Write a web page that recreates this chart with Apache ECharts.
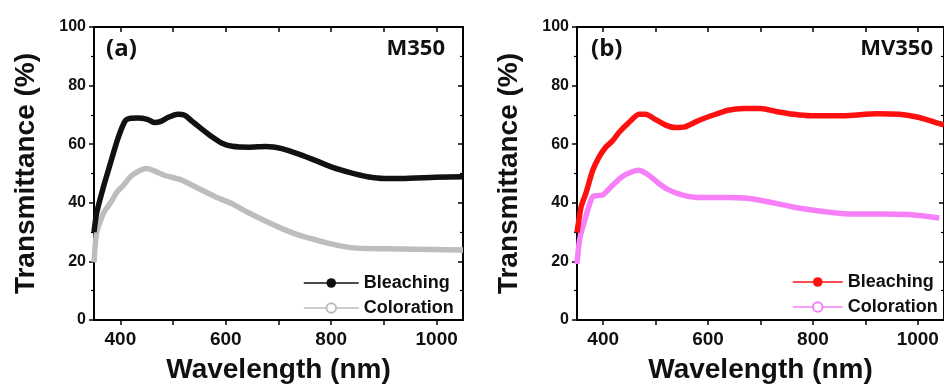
<!DOCTYPE html>
<html>
<head>
<meta charset="utf-8">
<script src="https://cdn.jsdelivr.net/npm/echarts@6/dist/echarts.min.js"></script>
<style>
html,body{margin:0;padding:0;background:#fff;}
#c{width:944px;height:389px;}
</style>
</head>
<body>
<div id="c"></div>
<script>
// Panel (a) M350
const aBleachNm  = [350,355,368,381,394,406,413,432,451,464,477,490,509,522,535,554,573,593,612,644,676,708,740,772,804,836,869,901,933,997,1050];
const aBleachT   = [30.0,36.5,45.5,53.4,61.2,66.9,68.5,68.9,68.5,67.4,67.8,69.1,70.2,69.9,68.0,65.2,62.6,60.3,59.3,59.0,59.2,58.4,56.5,54.3,52.0,50.3,48.9,48.3,48.3,48.7,48.9];
const aColorNm   = [350,355,368,381,394,406,419,438,451,464,483,516,548,580,612,644,676,708,740,772,804,836,869,933,1050];
const aColorT    = [19.7,29.8,36.5,39.9,43.8,46.0,48.9,51.1,51.7,50.9,49.4,47.8,44.9,42.1,39.7,36.5,33.7,31.1,28.9,27.3,25.8,24.7,24.4,24.2,23.9];
// Panel (b) MV350
const bBleachNm  = [350,358,367,380,392,405,418,430,449,468,481,499,518,537,556,581,606,638,669,701,732,764,795,858,921,965,1003,1034,1050];
const bBleachT   = [29.8,38.8,43.3,51.1,55.6,59.0,61.2,64.0,67.4,70.2,70.2,68.5,66.6,65.7,65.9,68.0,69.7,71.6,72.2,72.2,71.1,70.2,69.7,69.7,70.4,70.2,69.1,67.4,66.6];
const bColorNm   = [350,355,367,380,399,418,436,455,468,487,506,525,550,575,606,638,669,701,732,764,795,826,858,921,984,1041];
const bColorT    = [19.1,27.5,35.4,42.1,42.7,46.0,48.9,50.6,51.1,49.4,46.6,44.4,42.7,41.9,41.8,41.8,41.6,40.8,39.7,38.5,37.6,36.9,36.3,36.2,36.0,34.8];

const xTickLabels = [400,600,800,1000];
const xTicks = [400,500,600,700,800,900,1000];
const seriesNames = ['Bleaching','Coloration'];
const panelTags = ['(a)','(b)'];
const sampleNames = ['M350','MV350'];

function pairs(xs, ys){ return xs.map((x,i)=>[x, ys[i]]); }

const FONT = '"Liberation Sans", Arial, sans-serif';
const TXT = '#111';

function bottomX(grid){
  return {
    type:'value', gridIndex:grid, min:350, max:1050, position:'bottom',
    name:'Wavelength (nm)', nameLocation:'middle', nameGap:36,
    nameTextStyle:{fontFamily:FONT, fontWeight:'bold', fontSize:28, color:TXT},
    axisLine:{show:true, lineStyle:{color:'#000', width:2}},
    axisTick:{show:true, inside:false, length:5, customValues:xTicks, lineStyle:{color:'#000', width:1.5}},
    axisLabel:{show:true, margin:10, customValues:xTickLabels, formatter:function(v){return String(v);},
      fontFamily:FONT, fontWeight:'bold', fontSize:19, color:TXT},
    splitLine:{show:false}
  };
}
function topX(grid){
  return {
    type:'value', gridIndex:grid, min:350, max:1050, position:'top',
    axisLine:{show:true, onZero:false, lineStyle:{color:'#000', width:2}},
    axisTick:{show:true, inside:true, length:5, customValues:xTicks, lineStyle:{color:'#000', width:1.5}},
    axisLabel:{show:false}, splitLine:{show:false}
  };
}
function leftY(grid){
  return {
    type:'value', gridIndex:grid, min:0, max:100, interval:20, position:'left',
    name:'Transmittance (%)', nameLocation:'middle', nameGap:54,
    nameTextStyle:{fontFamily:FONT, fontWeight:'bold', fontSize:28, color:TXT},
    axisLine:{show:true, lineStyle:{color:'#000', width:2}},
    axisTick:{show:true, inside:false, length:5, lineStyle:{color:'#000', width:1.5}},
    minorTick:{show:true, splitNumber:2, length:3, lineStyle:{color:'#000', width:1.2}},
    axisLabel:{show:true, margin:8, fontFamily:FONT, fontWeight:'bold', fontSize:16, color:TXT},
    splitLine:{show:false}, minorSplitLine:{show:false}
  };
}
function rightY(grid){
  return {
    type:'value', gridIndex:grid, min:0, max:100, interval:20, position:'right',
    axisLine:{show:true, onZero:false, lineStyle:{color:'#000', width:2}},
    axisTick:{show:true, inside:true, length:5, lineStyle:{color:'#000', width:1.5}},
    minorTick:{show:true, splitNumber:2, length:3, lineStyle:{color:'#000', width:1.2}},
    axisLabel:{show:false}, splitLine:{show:false}, minorSplitLine:{show:false}
  };
}

function lineSeries(name, data, xi, yi, color, sym){
  return {
    type:'line', name:name, xAxisIndex:xi, yAxisIndex:yi, data:data,
    smooth:0.2, showSymbol:false, symbol:sym, symbolSize:11,
    lineStyle:{color:color, width:5.5},
    itemStyle:{color: color, borderColor: color, borderWidth: sym==='emptyCircle'?1.5:0},
    emphasis:{disabled:true}, animation:false, z:3
  };
}

const chart = echarts.init(document.getElementById('c'), null, {renderer:'canvas'});
const legendText = {fontFamily:FONT, fontWeight:'bold', fontSize:18, color:TXT, lineHeight:20};
chart.setOption({
  backgroundColor:'#fff',
  animation:false,
  grid:[
    {left:94, top:27, width:369, height:295},
    {left:577, top:27, width:371, height:295}
  ],
  xAxis:[bottomX(0), topX(0), bottomX(1), topX(1)],
  yAxis:[leftY(0), rightY(0), leftY(1), rightY(1)],
  title:[
    {text:panelTags[0], left:106, top:37, padding:0, textStyle:{fontFamily:'"Open Sans", sans-serif', fontWeight:'bold', fontSize:24, color:TXT}},
    {text:sampleNames[0], right:499, top:38, padding:0, textStyle:{fontFamily:'"Open Sans", sans-serif', fontWeight:'bold', fontSize:22, color:TXT}},
    {text:panelTags[1], left:591, top:37, padding:0, textStyle:{fontFamily:'"Open Sans", sans-serif', fontWeight:'bold', fontSize:24, color:TXT}},
    {text:sampleNames[1], right:11, top:38, padding:0, textStyle:{fontFamily:'"Open Sans", sans-serif', fontWeight:'bold', fontSize:22, color:TXT}}
  ],
  legend:[
    {data:[seriesNames[0], seriesNames[1]], orient:'vertical', left:303, top:273, padding:0, itemGap:5,
     itemWidth:55, itemHeight:12, textStyle:legendText, lineStyle:{width:1.5}, selectedMode:false},
    {data:[seriesNames[0]+' (b)', seriesNames[1]+' (b)'], orient:'vertical', left:792, top:272, padding:0, itemGap:5,
     itemWidth:50, itemHeight:12, textStyle:legendText, lineStyle:{width:1.5}, selectedMode:false,
     formatter:function(n){return n.replace(' (b)','');}}
  ],
  series:[
    lineSeries(seriesNames[1], pairs(aColorNm, aColorT), 0, 0, '#bdbdbd', 'emptyCircle'),
    lineSeries(seriesNames[0], pairs(aBleachNm, aBleachT), 0, 0, '#111111', 'circle'),
    lineSeries(seriesNames[1]+' (b)', pairs(bColorNm, bColorT), 2, 2, '#f77ff7', 'emptyCircle'),
    lineSeries(seriesNames[0]+' (b)', pairs(bBleachNm, bBleachT), 2, 2, '#ff1010', 'circle')
  ]
});
</script>
</body>
</html>
